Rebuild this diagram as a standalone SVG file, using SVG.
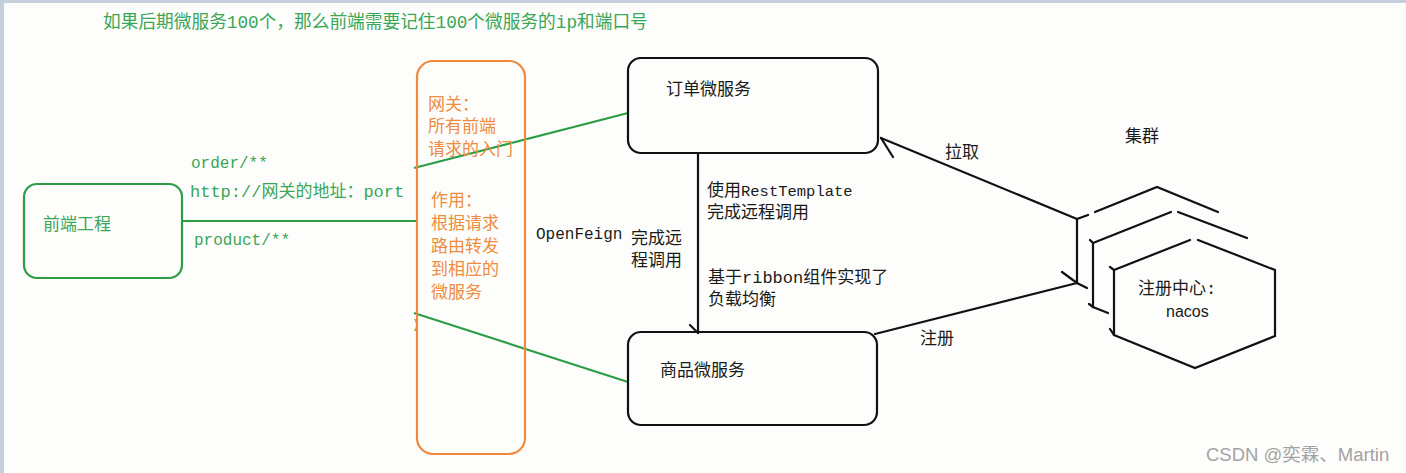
<svg xmlns="http://www.w3.org/2000/svg" width="1406" height="473" viewBox="0 0 1406 473">
  <style>
    .bg { fill: #fdfefb; }
    .frame { fill: #c6d0dd; }
    .gbox { fill: none; stroke: #2c9d45; stroke-width: 2.2; }
    .obox { fill: none; stroke: #f0893a; stroke-width: 2.2; }
    .kbox { fill: none; stroke: #111; stroke-width: 2.2; }
    .gline { fill: none; stroke: #2c9d45; stroke-width: 2.2; }
    .kline { fill: none; stroke: #111; stroke-width: 2.2; stroke-linecap: round; }
    .t { font-family: "Liberation Mono", "Noto Sans CJK SC", monospace; font-size: 17px; }
    .g { fill: #3aa657; }
    .o { fill: #ee8c42; }
    .k { fill: #1a1a1a; }
    .a { font-size: 16px; }
  </style>
  <rect class="bg" x="0" y="0" width="1406" height="473"/>
  <rect class="frame" x="0" y="0" width="1406" height="3"/>
  <rect class="frame" x="0" y="0" width="4" height="473"/>

  <text class="t g" x="103" y="28" style="font-size:17.7px">如果后期微服务100个，那么前端需要记住100个微服务的ip和端口号</text>

  <g id="connectors">
    <line class="gline" x1="182" y1="221" x2="417" y2="221"/>
    <line class="gline" x1="414" y1="168" x2="628" y2="113"/>
    <line class="gline" x1="414" y1="313" x2="628" y2="382"/>
    <!-- order -> product -->
    <line class="kline" x1="698" y1="153" x2="698" y2="333"/>
    <line class="kline" x1="690" y1="325" x2="698" y2="333"/>
    <!-- pull -->
    <line class="kline" x1="1077" y1="219" x2="881" y2="138"/>
    <line class="kline" x1="881" y1="138" x2="893" y2="157"/>
    <!-- register -->
    <line class="kline" x1="875" y1="334" x2="1077" y2="283"/>
    <line class="kline" x1="1062" y1="272" x2="1077" y2="283"/>
  </g>

  <g id="frontend">
    <rect class="gbox" x="24" y="184" width="158" height="94" rx="13"/>
    <text class="t g" x="43" y="230">前端工程</text>
  </g>

  <g id="route-labels">
    <text class="t g a" x="191" y="168">order/**</text>
    <text class="t g" x="190" y="197">http://网关的地址：port</text>
    <text class="t g a" x="194" y="245">product/**</text>
    <text class="t g" x="412" y="328" style="font-size:12px">)</text>
  </g>

  <g id="gateway">
    <rect class="obox" x="417" y="61" width="108" height="393" rx="16"/>
    <text class="t o" x="428" y="110">网关：</text>
    <text class="t o" x="428" y="132">所有前端</text>
    <text class="t o" x="428" y="155">请求的入门</text>
    <text class="t o" x="431" y="206">作用：</text>
    <text class="t o" x="431" y="229">根据请求</text>
    <text class="t o" x="431" y="252">路由转发</text>
    <text class="t o" x="431" y="275">到相应的</text>
    <text class="t o" x="431" y="298">微服务</text>
  </g>

  <g id="order-service">
    <rect class="kbox" x="628" y="58" width="250" height="95" rx="13"/>
    <text class="t k" x="666" y="95">订单微服务</text>
  </g>

  <g id="product-service">
    <rect class="kbox" x="628" y="332" width="249" height="93" rx="13"/>
    <text class="t k" x="660" y="376">商品微服务</text>
  </g>

  <g id="call-labels">
    <text class="t k a" x="536" y="239">OpenFeign</text>
    <text class="t k" x="631" y="244">完成远</text>
    <text class="t k" x="631" y="266">程调用</text>
    <text class="t k" x="707" y="196"><tspan style="font-size:17px">使用</tspan><tspan style="font-size:15.5px">RestTemplate</tspan></text>
    <text class="t k" x="707" y="218">完成远程调用</text>
    <text class="t k" x="708" y="283">基于ribbon组件实现了</text>
    <text class="t k" x="708" y="305">负载均衡</text>
    <text class="t k" x="945" y="158">拉取</text>
    <text class="t k" x="920" y="344">注册</text>
    <text class="t k" x="1125" y="142">集群</text>
  </g>

  <g id="nacos-cluster">
    <!-- back hexagon -->
    <polyline class="kline" points="1088,215 1077,219 1077,283 1087,288"/>
    <polyline class="kline" points="1095,212 1157,187 1218,212"/>
    <!-- middle hexagon -->
    <polyline class="kline" points="1090,240 1093,243 1093,307 1108,313"/>
    <polyline class="kline" points="1089,304 1093,307"/>
    <polyline class="kline" points="1093,243 1171,212"/>
    <polyline class="kline" points="1178,212 1247,238"/>
    <!-- front hexagon -->
    <polyline class="kline" points="1110,267 1114,270 1190,240"/>
    <polyline class="kline" points="1198,240 1275,270 1275,336 1195,368 1114,335 1114,270"/>
    <polyline class="kline" points="1110,329 1114,335"/>
    <text class="t k" x="1138" y="294">注册中心:</text>
    <text x="1166" y="317" font-family="Liberation Sans, Arial, sans-serif" font-size="16" fill="#1a1a1a">nacos</text>
  </g>

  <text x="1206" y="461" font-family="Liberation Sans, Noto Sans CJK SC, sans-serif" font-size="18.5" fill="#a3a3a3">CSDN @奕霖、Martin</text>
</svg>
